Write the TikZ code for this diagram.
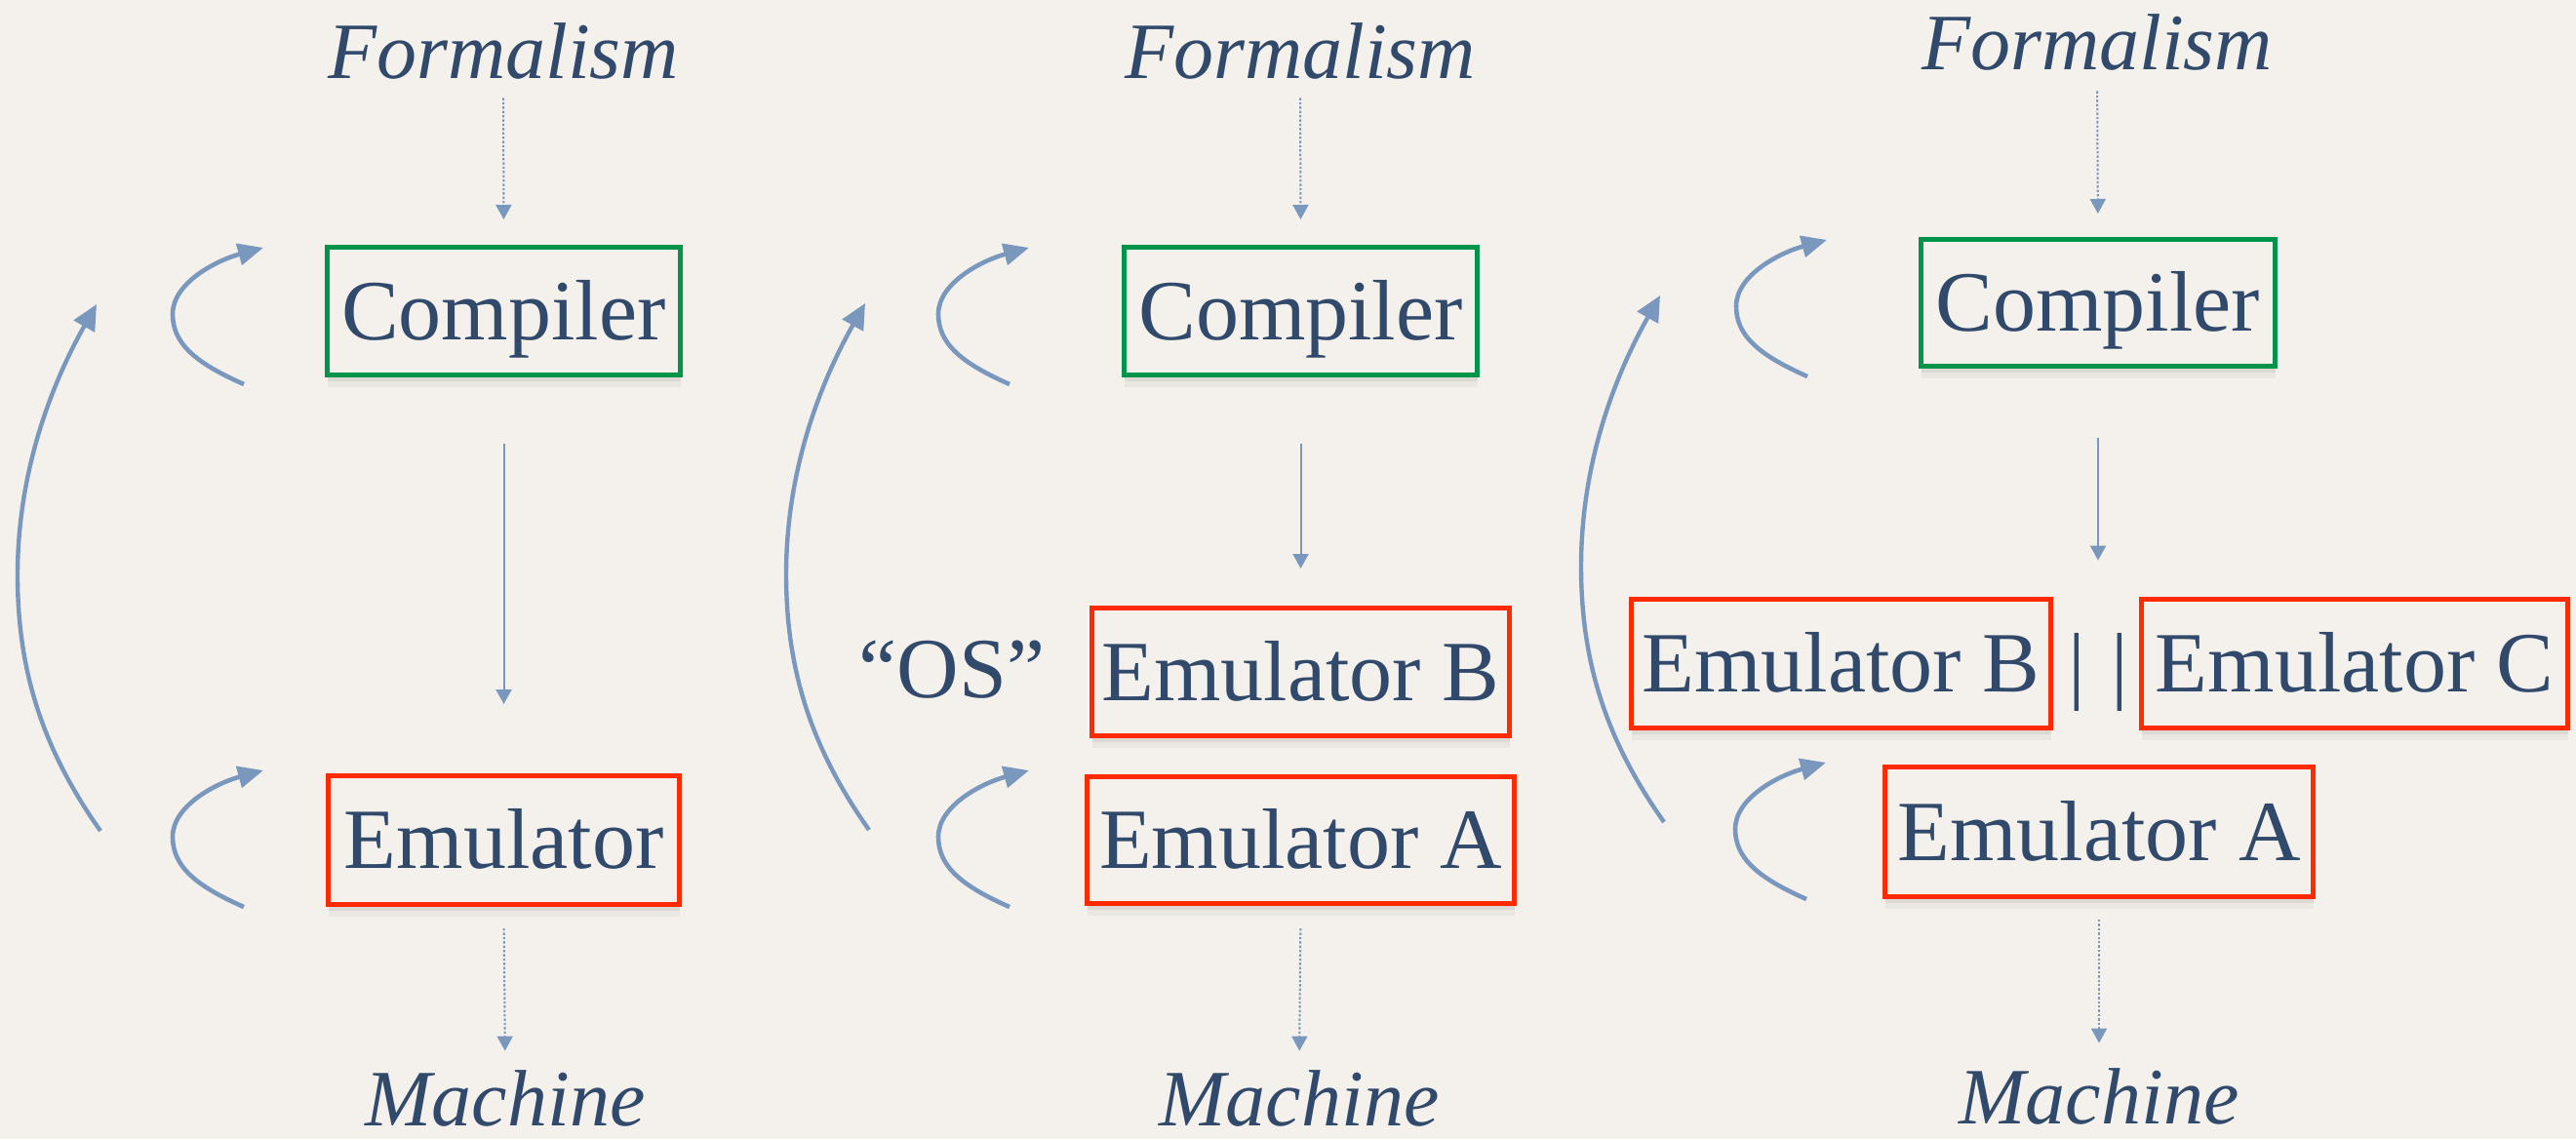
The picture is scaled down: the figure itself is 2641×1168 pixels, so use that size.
\documentclass[tikz,border=0pt]{standalone}
\usepackage{fontspec}
\setmainfont{Liberation Serif}
\usetikzlibrary{arrows.meta,shadows}
\definecolor{bg}{HTML}{F4F1EC}
\definecolor{ink}{HTML}{31496B}
\definecolor{arr}{HTML}{7A97BE}
\definecolor{grn}{HTML}{00934A}
\definecolor{rd}{HTML}{FF2A00}
\begin{document}
\begin{tikzpicture}[x=0.5pt,y=-0.5pt,
  every node/.style={font=\fontsize{44}{52}\selectfont, text=ink, inner sep=0pt},
  lbl/.style={anchor=base, text height=29pt, text depth=0pt},
  ital/.style={anchor=base, text height=27pt, text depth=0pt, font=\fontsize{41}{49}\selectfont\itshape},
  boxbase/.style={line width=2.5pt, fill=bg, text height=29pt, text depth=0pt,
    drop shadow={shadow xshift=0pt, shadow yshift=-3pt, opacity=0.06, fill=black},
    drop shadow={shadow xshift=0pt, shadow yshift=-6pt, opacity=0.04, fill=black}},
  boxg/.style={boxbase, draw=grn},
  boxr/.style={boxbase, draw=rd},
  dotar/.style={draw=arr, line width=1pt, dash pattern=on 1.2pt off 1pt, -{Triangle[length=7.5pt,width=8pt]}},
  solar/.style={draw=arr, line width=1pt, -{Triangle[length=7.5pt,width=8pt]}},
  loopar/.style={draw=arr, line width=2.3pt, -{Triangle[length=13pt,width=11pt]}},
  bigar/.style={draw=arr, line width=2.2pt, -{Triangle[length=13pt,width=12pt]}}
]
\useasboundingbox (0,0) rectangle (2641,1168);
\fill[bg] (0,0) rectangle (2641,1168);

% ---------- Panel 1 ----------
\node[ital] (f1) at (516,80) {Formalism};
\node[boxg, minimum width=181pt, minimum height=65.5pt] (c1) at (516.5,319) {Compiler};
\node[boxr, minimum width=180pt, minimum height=66pt] (e1) at (516.5,861.5) {Emulator};
\node[ital] (m1) at (518,1154) {Machine};
\draw[dotar, shorten <=10pt, shorten >=13pt] (f1.south) -- (c1.north);
\draw[solar, shorten <=34pt, shorten >=35.5pt] (c1.south) -- (e1.north);
\draw[dotar, shorten <=11pt, shorten >=11pt] (e1.south) -- (m1.north);

% ---------- Panel 2 ----------
\node[ital] (f2) at (1333,80) {Formalism};
\node[boxg, minimum width=181pt, minimum height=65.5pt] (c2) at (1333.5,319) {Compiler};
\node[boxr, minimum width=214pt, minimum height=65.5pt] (eb2) at (1333.5,689) {Emulator B};
\node[boxr, minimum width=219pt, minimum height=65pt] (ea2) at (1333.5,861.5) {Emulator A};
\node[lbl] (os) at (976,715) {“OS”};
\node[ital] (m2) at (1332,1154) {Machine};
\draw[dotar, shorten <=10pt, shorten >=13pt] (f2.south) -- (c2.north);
\draw[solar, shorten <=34pt, shorten >=19pt] (c2.south) -- (eb2.north);
\draw[dotar, shorten <=11.5pt, shorten >=11pt] (ea2.south) -- (m2.north);

% ---------- Panel 3 ----------
\node[ital] (f3) at (2150,71) {Formalism};
\node[boxg, minimum width=181.5pt, minimum height=65pt] (c3) at (2151,310.5) {Compiler};
\node[boxr, minimum width=215pt, minimum height=66pt] (eb3) at (1887.5,680.5) {Emulator B};
\node[boxr, minimum width=218.5pt, minimum height=66pt] (ec3) at (2414,680.5) {Emulator C};
\node[lbl] (par) at (2151,710) {|\hspace{0.3em}|};
\node[boxr, minimum width=219.5pt, minimum height=66.5pt] (ea3) at (2152,853) {Emulator A};
\node[ital] (m3) at (2152,1152) {Machine};
\draw[dotar, shorten <=11pt, shorten >=12pt] (f3.south) -- (c3.north);
\draw[solar, shorten <=35.5pt, shorten >=38.5pt] (c3.south) -- (par.north);
\draw[dotar, shorten <=10.5pt, shorten >=14pt] (ea3.south) -- (m3.north);

% ---------- small loop arrows ----------
\foreach \sx/\sy in {250/394, 250/930, 1035/394, 1035/930, 1853/386, 1852/922}{
  \draw[loopar, shift={(\sx,\sy)}] (0,0) .. controls (-50,-22) and (-73,-42) .. (-73,-72)
     .. controls (-73,-104) and (-28,-127) .. (20,-140);
}

% ---------- big return arrows ----------
\foreach \sx/\sy in {103/852, 891/851, 1706/843}{
  \draw[bigar, shift={(\sx,\sy)}] (0,0) .. controls (-58,-82) and (-85,-162) .. (-85,-262)
     .. controls (-85,-372) and (-48,-462) .. (-4,-540);
}
\end{tikzpicture}
\end{document}
